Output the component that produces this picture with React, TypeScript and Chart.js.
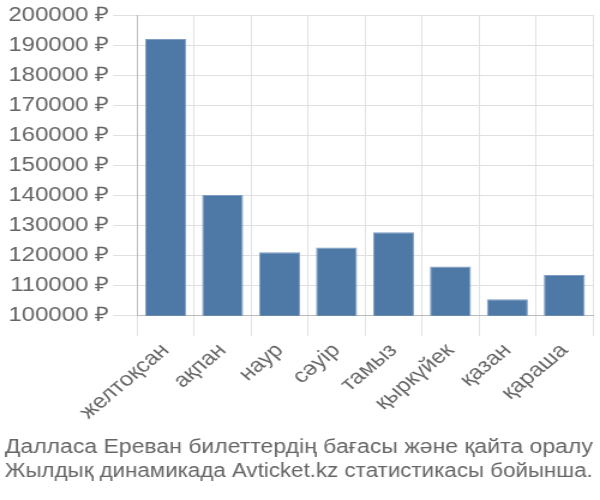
import { Chart, registerables } from "chart.js";
import { useEffect, useRef } from "react";

Chart.register(...registerables);

const months = ["желтоқсан", "ақпан", "наур", "сәуір", "тамыз", "қыркүйек", "қазан", "қараша"];
const prices = [192000, 140200, 121100, 122700, 127800, 116400, 105500, 113600];
const titleLines = [
  "Далласа Ереван билеттердің бағасы және қайта оралу",
  "Жылдық динамикада Avticket.kz статистикасы бойынша.",
];

export default function App() {
  const chartRef = useRef<HTMLCanvasElement | null>(null);

  useEffect(() => {
    const ctx = chartRef.current?.getContext("2d");
    if (!ctx) return;

    Chart.defaults.font.family = "'Liberation Sans', Arial, sans-serif";
    Chart.defaults.color = "#666";

    const chart = new Chart(ctx, {
      type: "bar",
      data: {
        labels: months,
        datasets: [
          {
            data: prices,
            backgroundColor: "#4e79a7",
            borderColor: "#7d9cc2",
            borderWidth: 1,
          },
        ],
      },
      options: {
        animation: false,
        responsive: true,
        maintainAspectRatio: false,
        layout: { padding: { left: 4, right: 6, top: 3, bottom: 0 } },
        plugins: {
          legend: { display: false },
          tooltip: { enabled: false },
          title: {
            display: true,
            position: "bottom",
            text: titleLines,
            color: "#666",
            font: { size: 20, weight: "normal" },
            padding: { top: 8, bottom: 17 },
          },
        },
        scales: {
          x: {
            grid: { color: "#e0e0e0", tickLength: 20 },
            border: { color: "#bbb" },
            ticks: {
              color: "#666",
              font: { size: 20 },
              minRotation: 45,
              maxRotation: 45,
            },
          },
          y: {
            min: 100000,
            max: 200000,
            grid: { color: "#e0e0e0", tickLength: 20 },
            border: { color: "#bbb" },
            ticks: {
              stepSize: 10000,
              color: "#666",
              font: { size: 20 },
              callback: (value) => `${value} ₽`,
            },
          },
        },
      },
    });

    return () => chart.destroy();
  }, []);

  // the chart is laid out 500 wide and stretched to the 600px frame
  return (
    <div
      style={{
        position: "absolute",
        left: 0,
        top: 0,
        width: 500,
        height: 500,
        transform: "scaleX(1.2)",
        transformOrigin: "0 0",
      }}
    >
      <canvas ref={chartRef} />
    </div>
  );
}
